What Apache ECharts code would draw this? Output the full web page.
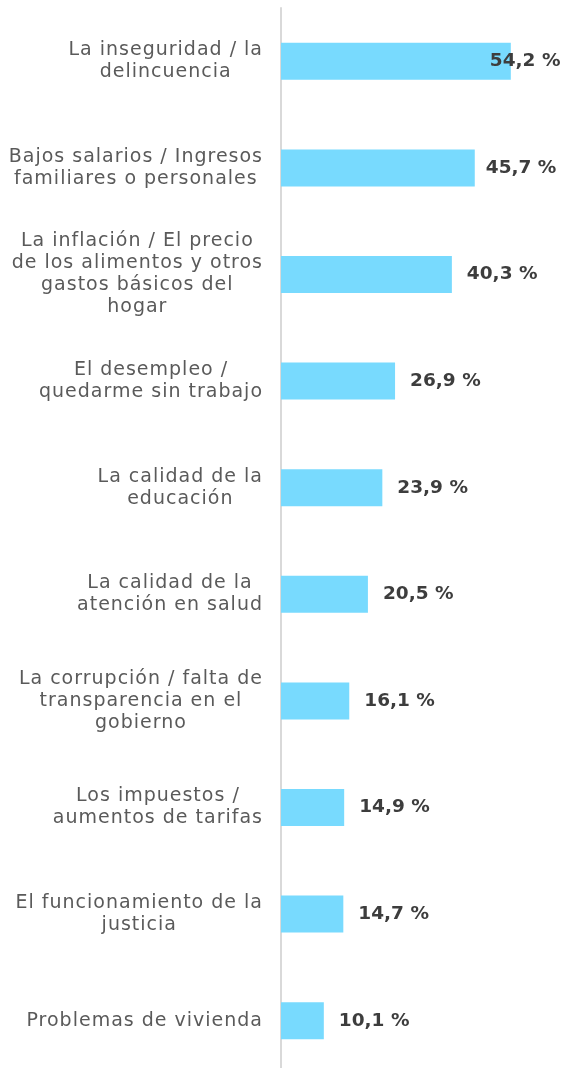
<!DOCTYPE html>
<html><head><meta charset="utf-8">
<script src="https://cdn.jsdelivr.net/npm/echarts@6/dist/echarts.min.js"></script>
<style>html,body{margin:0;padding:0;background:#fff}#c{width:562px;height:1068px}</style>
</head><body><div id="c"></div>
<script>
const categories = [
  "La inseguridad / la\ndelincuencia",
  "Bajos salarios / Ingresos\nfamiliares o personales",
  "La inflación / El precio\nde los alimentos y otros\ngastos básicos del\nhogar",
  "El desempleo /\nquedarme sin trabajo",
  "La calidad de la\neducación",
  "La calidad de la\natención en salud",
  "La corrupción / falta de\ntransparencia en el\ngobierno",
  "Los impuestos /\naumentos de tarifas",
  "El funcionamiento de la\njusticia",
  "Problemas de vivienda"
];
const values = [54.2, 45.7, 40.3, 26.9, 23.9, 20.5, 16.1, 14.9, 14.7, 10.1];
const labelOffsets = [-36, -4, 0, 0, 0, 0, 0, 0, 0, 0];

// light tracking for the regular-weight text (the original uses a wide, tracked face)
(function () {
  const P = CanvasRenderingContext2D.prototype;
  if (!('letterSpacing' in P)) return;
  const set = ctx => { ctx.letterSpacing = /bold/.test(ctx.font) ? '0px' : '1px'; };
  ['measureText', 'fillText', 'strokeText'].forEach(k => {
    const orig = P[k];
    P[k] = function () { set(this); return orig.apply(this, arguments); };
  });
})();

const FONT = 'DejaVu Sans';
const chart = echarts.init(document.getElementById('c'));
chart.setOption({
  animation: false,
  grid: { left: 281, right: 26.6, top: 8, height: 1066, outerBoundsMode: 'none', containLabel: false },
  xAxis: { type: 'value', min: 0, max: 60, show: false },
  yAxis: {
    type: 'category', inverse: true, data: categories,
    axisLine: { show: true, lineStyle: { color: '#d9d9d9', width: 2 } },
    axisTick: { show: false },
    axisLabel: {
      margin: 18, align: 'right',
      formatter: v => v.split('\n').map(l => '{c|' + l + '}').join('\n'),
      rich: { c: { align: 'center', fontFamily: FONT, fontSize: 19, lineHeight: 22, color: '#5a5a5a' } }
    }
  },
  series: [{
    type: 'bar', barWidth: 37,
    itemStyle: { color: '#78DAFE' },
    data: values.map((v, i) => ({
      value: v,
      label: { offset: [labelOffsets[i], 0] }
    })),
    label: {
      show: true, position: 'right', distance: 15,
      fontFamily: FONT, fontWeight: 'bold', fontSize: 18.5, color: '#3d3d3d',
      formatter: p => p.value.toFixed(1).replace('.', ',') + ' %'
    }
  }]
});
</script></body></html>
